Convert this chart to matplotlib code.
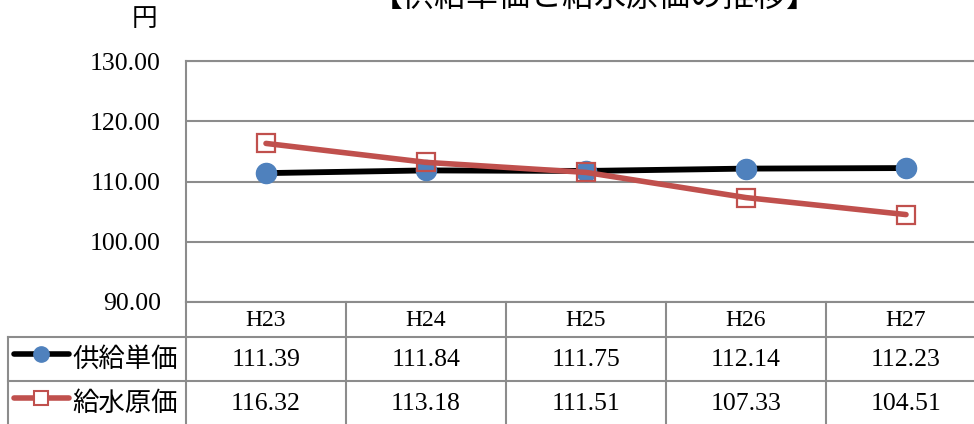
import matplotlib
matplotlib.use("Agg")
import matplotlib.pyplot as plt
from matplotlib.lines import Line2D

plt.rcParams['font.family'] = ['Liberation Serif', 'Noto Sans CJK JP', 'DejaVu Sans']

# data
years = ["H23", "H24", "H25", "H26", "H27"]
supply_price = [111.39, 111.84, 111.75, 112.14, 112.23]   # 供給単価
water_cost = [116.32, 113.18, 111.51, 107.33, 104.51]     # 給水原価
series_names = ["供給単価", "給水原価"]
title = "【供給単価と給水原価の推移】"
y_ticks = [90, 100, 110, 120, 130]

BLUE = "#4F81BD"
RED = "#C0504D"
GRID = "#8C8C8C"

W, H = 974, 424
fig = plt.figure(figsize=(W / 100, H / 100), dpi=100)


def frac(left, top, right, bottom):
    # pixel box -> figure fraction rect
    return [left / W, 1 - bottom / H, (right - left) / W, (bottom - top) / H]


# main plot
ax = fig.add_axes(frac(186, 61, 986, 302))
x = list(range(len(years)))
ax.plot(x, supply_price, color="black", lw=4.2, marker="o", ms=14.5,
        mfc=BLUE, mec=BLUE, zorder=3, solid_capstyle="round")
ax.plot(x, water_cost, ls="none", marker="s", ms=13.5, mfc="none",
        mec=RED, mew=1.6, zorder=4)
ax.plot(x, water_cost, color=RED, lw=4, zorder=5, solid_capstyle="round")

ax.set_xlim(-0.5, len(years) - 0.5)
ax.set_ylim(y_ticks[0], y_ticks[-1])
ax.set_yticks(y_ticks)
ax.set_yticklabels([f"{v:.2f}" for v in y_ticks], fontsize=18.5)
ax.set_xticks([])
ax.tick_params(axis="y", length=0, pad=18)
ax.grid(axis="y", color=GRID, lw=1.5)
for side in ["right", "bottom"]:
    ax.spines[side].set_visible(False)
for side in ["left", "top"]:
    ax.spines[side].set_color(GRID)
    ax.spines[side].set_linewidth(1.5)
ax.set_axisbelow(True)

fig.text(145 / W, 1 - 20 / H, "円", fontsize=18.5, ha="center", va="center")
# title sits partly above the top edge, as in the source image
fig.text(595 / W, 1 + 1 / H, title, fontsize=23, ha="center", va="center")

# data table below the plot
tab = fig.add_axes(frac(186, 302, 986, 425))
tab.set_xlim(-0.5, len(years) - 0.5)
row_edges = [0, 35, 79, 123]
tab.set_ylim(row_edges[-1], 0)
tab.axis("off")
leg_left = -0.5 - 178 / 160

lkw = dict(color=GRID, lw=1.5, clip_on=False)
tab.plot([-0.5, len(years) - 0.5], [row_edges[0]] * 2, **lkw)
for r in row_edges[1:3]:
    tab.plot([leg_left, len(years) - 0.5], [r, r], **lkw)
tab.plot([-0.5, -0.5], [row_edges[0], row_edges[-1]], **lkw)
tab.plot([leg_left, leg_left], [row_edges[1], row_edges[-1]], **lkw)
for i in range(len(years)):
    tab.plot([i + 0.5, i + 0.5], [row_edges[0], row_edges[-1]], **lkw)

for i, yr in enumerate(years):
    tab.text(i, (row_edges[0] + row_edges[1]) / 2 + 1, yr, fontsize=17,
             ha="center", va="center")
for r, vals in enumerate([supply_price, water_cost]):
    yc = (row_edges[r + 1] + row_edges[r + 2]) / 2 + 1
    for i, v in enumerate(vals):
        tab.text(i, yc, f"{v:.2f}", fontsize=18.5, ha="center", va="center")

# legend keys inside table
styles = [dict(color="black", lw=4, marker="o", ms=11, mfc=BLUE, mec=BLUE),
          dict(color=RED, lw=4, marker="s", ms=10, mfc="white", mec=RED, mew=1.5)]
for r, (name, st) in enumerate(zip(series_names, styles)):
    yc = (row_edges[r + 1] + row_edges[r + 2]) / 2
    kx0 = leg_left + 6 / 160
    kx1 = leg_left + 61 / 160
    tab.add_line(Line2D([kx0, kx1], [yc - 5, yc - 5], color=st["color"],
                        lw=st["lw"], clip_on=False, solid_capstyle="round"))
    tab.add_line(Line2D([(kx0 + kx1) / 2], [yc - 5], ls="none", marker=st["marker"],
                        ms=st["ms"], mfc=st["mfc"], mec=st["mec"],
                        mew=st.get("mew", 1), clip_on=False))
    tab.text(leg_left + 64 / 160, yc, name, fontsize=19, ha="left", va="center",
             family=['Noto Sans CJK JP', 'DejaVu Sans'])

fig.savefig("out.png", dpi=100)
